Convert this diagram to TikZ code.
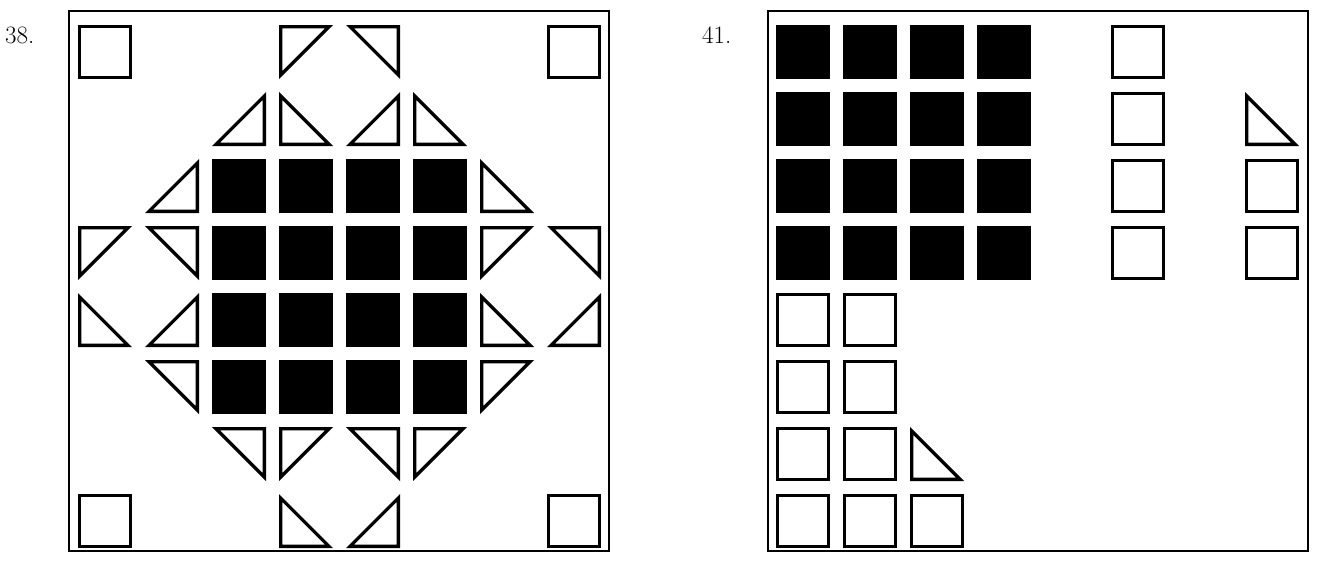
\documentclass[tikz,border=0pt]{standalone}
\begin{document}
\begin{tikzpicture}[x=1pt,y=-1pt,
  framebox/.style={draw=black,line width=2pt},
  numlabel/.style={inner sep=0pt,anchor=base west,font=\fontsize{25}{30}\selectfont},
  tricorner/.pic={\fill[black,even odd rule] (0,0)--(54,0)--(0,54)--cycle (3.3,3.3)--(46,3.3)--(3.3,46)--cycle;},
  opensq/.pic={\draw[black,line width=3.3pt] (1.65,1.65) rectangle (52.35,52.35);},
  solidsq/.pic={\fill[black] (0,0) rectangle (54,54);}
]
\useasboundingbox (0,0) rectangle (1334,570);
% labels
\node[numlabel] (lab38) at (5,43) {38.};
\node[numlabel] (lab41) at (702,43) {41.};
% frames
\draw[framebox] (69,11) rectangle (609,551);
\draw[framebox] (768,11) rectangle (1308,551);
% ---------- left panel (cell origin 78,25; pitch 67)
\begin{scope}[shift={(78,25)}]
\foreach \i/\j in {0/0,7/0,0/7,7/7}
  \pic at ({67*\i},{67*\j}) {opensq};
\foreach \i in {2,...,5}
  \foreach \j in {2,...,5}
    \pic at ({67*\i},{67*\j}) {solidsq};
% right angle at top-left
\foreach \i/\j in {3/0,0/3,6/3,6/5,3/6,5/6}
  \pic at ({67*\i},{67*\j}) {tricorner};
% right angle at top-right
\foreach \i/\j in {4/0,1/3,7/3,1/5,2/6,4/6}
  \pic[xscale=-1] at ({67*\i+54},{67*\j}) {tricorner};
% right angle at bottom-left
\foreach \i/\j in {3/1,5/1,6/2,0/4,6/4,3/7}
  \pic[yscale=-1] at ({67*\i},{67*\j+54}) {tricorner};
% right angle at bottom-right
\foreach \i/\j in {2/1,4/1,1/2,1/4,7/4,4/7}
  \pic[xscale=-1,yscale=-1] at ({67*\i+54},{67*\j+54}) {tricorner};
\end{scope}
% ---------- right panel (cell origin 776,25; pitch 67)
\begin{scope}[shift={(776,25)}]
\foreach \i in {0,...,3}
  \foreach \j in {0,...,3}
    \pic at ({67*\i},{67*\j}) {solidsq};
\foreach \i/\j in {5/0,5/1,5/2,5/3,7/2,7/3,0/4,1/4,0/5,1/5,0/6,1/6,0/7,1/7,2/7}
  \pic at ({67*\i},{67*\j}) {opensq};
\foreach \i/\j in {7/1,2/6}
  \pic[yscale=-1] at ({67*\i},{67*\j+54}) {tricorner};
\end{scope}
\end{tikzpicture}
\end{document}
